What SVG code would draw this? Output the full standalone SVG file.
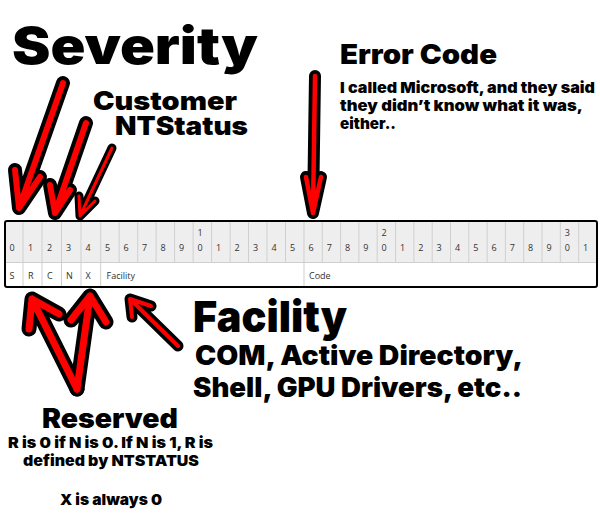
<svg xmlns="http://www.w3.org/2000/svg" width="600" height="526" viewBox="0 0 600 526">
<style>
.big{font-family:Inter,"Noto Sans",sans-serif;font-weight:900;fill:#000}
.hd{font-family:"Open Sans","Noto Sans",sans-serif;font-size:9px;fill:#333}
.cl{stroke:#cfcfcf;stroke-width:1}
.ao{fill:none;stroke:#000;stroke-linecap:round;stroke-linejoin:round}
.ai{fill:none;stroke:#ff0000;stroke-linecap:round;stroke-linejoin:round}
</style>
<defs>
<path id="p1" d="M63 83 L19 208 M15 170 L19 208 L40 177"/>
<path id="p2" d="M86 123 L55 213 M50 185 L55 213 L70 190"/>
<path id="p3" d="M112 148 L80 216 M79 196 L80 216 L95 201"/>
<path id="p4" d="M315 76 L313 213 M306 177 L313 213 L321 177"/>
<path id="p5" d="M77 389 L32 299 M29 329 L32 299 L59 314"/>
<path id="p6" d="M77 389 L90 296 M71 320 L90 296 L106 322"/>
<path id="p7" d="M178 346 L130 299 M132 317 L130 299 L151 306"/>
</defs>
<rect width="600" height="526" fill="#fff"/>
<g id="table">
<rect x="5" y="221" width="592" height="66" rx="2" fill="#fff"/>
<rect x="5" y="221" width="592" height="41.5" fill="#eeeeee"/>
<line class="cl" x1="5" y1="262.5" x2="597" y2="262.5"/>
<g class="cl">
<line x1="23" y1="221" x2="23" y2="287"/><line x1="42" y1="221" x2="42" y2="287"/><line x1="61.5" y1="221" x2="61.5" y2="287"/><line x1="81" y1="221" x2="81" y2="287"/><line x1="100.7" y1="221" x2="100.7" y2="287"/>
<line x1="119.2" y1="221" x2="119.2" y2="262.5"/><line x1="137.7" y1="221" x2="137.7" y2="262.5"/><line x1="156.1" y1="221" x2="156.1" y2="262.5"/><line x1="174.6" y1="221" x2="174.6" y2="262.5"/><line x1="193.1" y1="221" x2="193.1" y2="262.5"/><line x1="211.6" y1="221" x2="211.6" y2="262.5"/><line x1="230.1" y1="221" x2="230.1" y2="262.5"/><line x1="248.5" y1="221" x2="248.5" y2="262.5"/><line x1="267" y1="221" x2="267" y2="262.5"/><line x1="285.5" y1="221" x2="285.5" y2="262.5"/>
<line x1="304" y1="221" x2="304" y2="287"/>
<line x1="322.3" y1="221" x2="322.3" y2="262.5"/><line x1="340.6" y1="221" x2="340.6" y2="262.5"/><line x1="358.9" y1="221" x2="358.9" y2="262.5"/><line x1="377.2" y1="221" x2="377.2" y2="262.5"/><line x1="395.6" y1="221" x2="395.6" y2="262.5"/><line x1="413.9" y1="221" x2="413.9" y2="262.5"/><line x1="432.2" y1="221" x2="432.2" y2="262.5"/><line x1="450.5" y1="221" x2="450.5" y2="262.5"/><line x1="468.8" y1="221" x2="468.8" y2="262.5"/><line x1="487.1" y1="221" x2="487.1" y2="262.5"/><line x1="505.4" y1="221" x2="505.4" y2="262.5"/><line x1="523.7" y1="221" x2="523.7" y2="262.5"/><line x1="542" y1="221" x2="542" y2="262.5"/><line x1="560.3" y1="221" x2="560.3" y2="262.5"/><line x1="578.7" y1="221" x2="578.7" y2="262.5"/>
</g>
<rect x="5" y="221" width="592" height="66" rx="2" fill="none" stroke="#000" stroke-width="2"/>
<g class="hd">
<text x="9.5" y="251">0</text><text x="28" y="251">1</text><text x="47" y="251">2</text><text x="66" y="251">3</text><text x="85.5" y="251">4</text>
<text x="105" y="251">5</text><text x="123.5" y="251">6</text><text x="142" y="251">7</text><text x="160.5" y="251">8</text><text x="179" y="251">9</text>
<text x="197.5" y="236">1</text><text x="197.5" y="251">0</text>
<text x="216" y="251">1</text><text x="234.5" y="251">2</text><text x="253" y="251">3</text><text x="271.5" y="251">4</text><text x="290" y="251">5</text>
<text x="308.5" y="251">6</text><text x="326.8" y="251">7</text><text x="345" y="251">8</text><text x="363.3" y="251">9</text>
<text x="381.6" y="236">2</text><text x="381.6" y="251">0</text>
<text x="400" y="251">1</text><text x="418.3" y="251">2</text><text x="436.6" y="251">3</text><text x="454.9" y="251">4</text><text x="473.2" y="251">5</text><text x="491.5" y="251">6</text><text x="509.8" y="251">7</text><text x="528.1" y="251">8</text><text x="546.4" y="251">9</text>
<text x="564.7" y="236">3</text><text x="564.7" y="251">0</text>
<text x="583" y="251">1</text>
<text x="9.5" y="279">S</text><text x="28" y="279">R</text><text x="47" y="279">C</text><text x="66" y="279">N</text><text x="85.5" y="279">X</text>
<text x="106.5" y="279">Facility</text><text x="309" y="279">Code</text>
</g>
</g>
<g id="connectors">
<use href="#p1" class="ao" stroke-width="14"/><use href="#p1" class="ai" stroke-width="6"/>
<use href="#p2" class="ao" stroke-width="14"/><use href="#p2" class="ai" stroke-width="6"/>
<use href="#p3" class="ao" stroke-width="9"/><use href="#p3" class="ai" stroke-width="3"/>
<use href="#p4" class="ao" stroke-width="12"/><use href="#p4" class="ai" stroke-width="4.5"/>
<use href="#p5" class="ao" stroke-width="15"/><use href="#p6" class="ao" stroke-width="15"/>
<use href="#p5" class="ai" stroke-width="7"/><use href="#p6" class="ai" stroke-width="7"/>
<use href="#p7" class="ao" stroke-width="11"/><use href="#p7" class="ai" stroke-width="4"/>
</g>
<g id="severity"><text class="big" x="12" y="64" font-size="51" textLength="246" lengthAdjust="spacingAndGlyphs">Severity</text></g>
<g id="customer">
<text class="big" x="93" y="110" font-size="26" textLength="144" lengthAdjust="spacingAndGlyphs">Customer</text>
<text class="big" x="115" y="135" font-size="26" textLength="133" lengthAdjust="spacingAndGlyphs">NTStatus</text>
</g>
<g id="errorcode">
<text class="big" x="340" y="64" font-size="27" textLength="157" lengthAdjust="spacingAndGlyphs">Error Code</text>
<text class="big" x="340" y="93" font-size="15" textLength="255" lengthAdjust="spacingAndGlyphs">I called Microsoft, and they said</text>
<text class="big" x="340" y="111" font-size="15" textLength="243" lengthAdjust="spacingAndGlyphs">they didn’t know what it was,</text>
<text class="big" x="340" y="129" font-size="15" textLength="56" lengthAdjust="spacingAndGlyphs">either..</text>
</g>
<g id="facility">
<text class="big" x="193" y="332" font-size="43" textLength="154" lengthAdjust="spacingAndGlyphs">Facility</text>
<text class="big" x="195" y="365" font-size="27" textLength="328" lengthAdjust="spacingAndGlyphs">COM, Active Directory,</text>
<text class="big" x="193" y="397" font-size="27" textLength="329" lengthAdjust="spacingAndGlyphs">Shell, GPU Drivers, etc..</text>
</g>
<g id="reserved">
<text class="big" x="42" y="428" font-size="27" textLength="136" lengthAdjust="spacingAndGlyphs">Reserved</text>
<text class="big" x="8" y="448" font-size="15" textLength="205" lengthAdjust="spacingAndGlyphs">R is 0 if N is 0. If N is 1, R is</text>
<text class="big" x="23" y="466" font-size="15" textLength="176" lengthAdjust="spacingAndGlyphs">defined by NTSTATUS</text>
<text class="big" x="60" y="505" font-size="15" textLength="102" lengthAdjust="spacingAndGlyphs">X is always 0</text>
</g>
</svg>
